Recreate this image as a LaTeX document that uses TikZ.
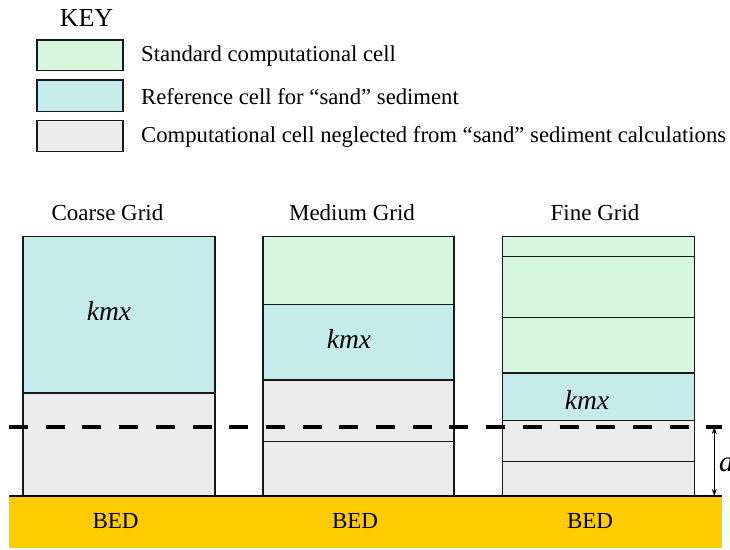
\documentclass[tikz,border=0pt]{standalone}
\usepackage{fontspec}
\setmainfont{Liberation Serif}
\usetikzlibrary{arrows.meta}
\definecolor{stdc}{RGB}{214,247,222}
\definecolor{refc}{RGB}{197,236,235}
\definecolor{negc}{RGB}{236,236,236}
\definecolor{bedc}{RGB}{255,204,0}
\tikzset{
  cell/.style={draw=black!90, line width=1.5pt},
  stdcell/.style={cell, fill=stdc},
  refcell/.style={cell, fill=refc},
  negcell/.style={cell, fill=negc},
  keytext/.style={anchor=west, inner sep=0pt, font=\fontsize{22.7}{24}\selectfont},
  gridlabel/.style={font=\fontsize{23}{25}\selectfont, inner sep=0pt},
  kmxlabel/.style={font=\fontsize{27.5}{29}\selectfont\itshape, inner sep=0pt},
  bedlabel/.style={font=\fontsize{23}{25}\selectfont, inner sep=0pt},
}
\begin{document}
\begin{tikzpicture}[x=1pt,y=-1pt]
\useasboundingbox (0,0) rectangle (730,549);
% KEY
\node[font=\fontsize{26}{28}\selectfont, inner sep=0pt] (key) at (86.5,18) {KEY};
\draw[stdcell] (37,40) rectangle (123,70.7);
\draw[refcell] (37,80) rectangle (123,111.7);
\draw[negcell] (37,120.7) rectangle (123,151.7);
\node[keytext] (k1) at (141,56) {Standard computational cell};
\node[keytext] (k2) at (141,96.5) {Reference cell for “sand” sediment};
\node[keytext] (k3) at (141,137) {Computational cell neglected from “sand” sediment calculations};
% Bed
\fill[bedc] (9,496) rectangle (722,548);
% Coarse grid
\draw[refcell] (23,236.7) rectangle (215,393);
\draw[negcell] (23,393) rectangle (215,495.7);
% Medium grid
\draw[stdcell] (263,236.7) rectangle (454,304.3);
\draw[refcell] (263,304.3) rectangle (454,380);
\draw[negcell] (263,380) rectangle (454,441.7);
\draw[negcell] (263,441.7) rectangle (454,495.7);
% Fine grid
\draw[stdcell] (502.7,236.7) rectangle (694.3,256.7);
\draw[stdcell] (502.7,256.7) rectangle (694.3,317.7);
\draw[stdcell] (502.7,317.7) rectangle (694.3,373);
\draw[refcell] (502.7,373) rectangle (694.3,420.7);
\draw[negcell] (502.7,420.7) rectangle (694.3,461.7);
\draw[negcell] (502.7,461.7) rectangle (694.3,495.7);
% bed top line
\draw[line width=2pt] (9,496) -- (722,496);
% labels
\node[gridlabel] (cg) at (107.5,213) {Coarse Grid};
\node[gridlabel] (mg) at (352,213) {Medium Grid};
\node[gridlabel] (fg) at (595,213) {Fine Grid};
\node[kmxlabel] (kc) at (109,311) {kmx};
\node[kmxlabel] (km) at (349,339) {kmx};
\node[kmxlabel] (kf) at (587,400) {kmx};
\node[bedlabel] (b1) at (115.5,521) {BED};
\node[bedlabel] (b2) at (355,521) {BED};
\node[bedlabel] (b3) at (590,521) {BED};
% dashed reference level
\coordinate (dl) at (9,427);
\coordinate (dr) at (722,427);
\draw[line width=4.7pt, dash pattern=on 19pt off 17.7pt] (dl) -- (dr);
% height a
\coordinate (at) at (714.3,427);
\coordinate (ab) at (714.3,496);
\draw[line width=0.9pt, {Stealth[length=7pt,width=5pt]}-{Stealth[length=7pt,width=5pt]}] (at) -- (ab);
\node[font=\fontsize{29}{30}\selectfont\itshape, anchor=base west, inner sep=0pt] (alab) at (719,471) {a};
\end{tikzpicture}
\end{document}
